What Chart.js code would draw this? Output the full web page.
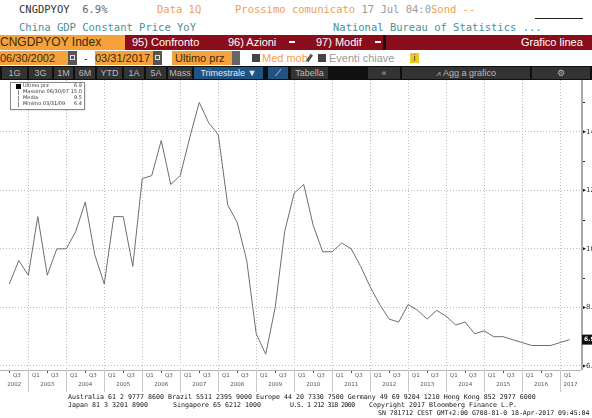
<!DOCTYPE html>
<html>
<head>
<meta charset="utf-8">
<script src="https://cdn.jsdelivr.net/npm/chart.js@4.4.1/dist/chart.umd.min.js"></script>
<style>
  body { margin:0; width:592px; height:418px; overflow:hidden; background:#fff; position:relative; }
  .abs { position:absolute; white-space:pre; }
  .mono { font-family:"DejaVu Sans Mono", "Liberation Mono", monospace; }
  .nar { font-family:"Liberation Sans", Arial, sans-serif; }
  .row { position:absolute; left:0; width:592px; }
  .btn { position:absolute; top:1px; height:12px; background:#333; color:#b8b8b8; font-size:9px; line-height:12px; text-align:center; }
  #wrap { position:absolute; left:0; top:80px; width:592px; height:315px; }
</style>
</head>
<body>
<!-- riga 1 e 2 -->
<div class="abs mono" style="left:19px;top:3px;font-size:10.5px;color:#333">CNGDPYOY  <span style="color:#666">6.9%</span></div>
<div class="abs mono" style="left:157px;top:3px;font-size:10.5px;color:#f0a050">Data 1Q</div>
<div class="abs mono" style="left:235px;top:3px;font-size:10.5px;color:#f0a050">Prossimo comunicato <span style="color:#999">17 Jul 04:0</span>Sond --</div>
<div class="abs" style="left:535px;top:18px;width:48px;height:1px;background:#222"></div>
<div class="abs mono" style="left:19px;top:21px;font-size:10.5px;color:#4a9097">China GDP Constant Price YoY</div>
<div class="abs mono" style="left:333px;top:21px;font-size:10.5px;color:#4a9097">National Bureau of Statistics ...</div>

<!-- barra rossa -->
<div class="row nar" style="top:35px;height:15px;background:#8a0d1c;color:#fff;font-size:11px;line-height:15px">
  <div class="abs" style="left:0;top:0;width:125px;height:15px;background:#f5a23c;color:#3a2a10;font-size:12px">CNGDPYOY Index</div>
  <div class="abs" style="left:132px;top:0">95) Confronto</div>
  <div class="abs" style="left:228px;top:0">96) Azioni</div>
  <div class="abs" style="left:289px;top:6px;width:6px;height:2px;background:#fff"></div>
  <div class="abs" style="left:316px;top:0">97) Modif</div>
  <div class="abs" style="left:375px;top:6px;width:6px;height:2px;background:#fff"></div>
  <div class="abs" style="left:383px;top:0;width:3px;height:15px;background:#111"></div>
  <div class="abs" style="left:521px;top:0">Grafico linea</div>
</div>

<!-- date -->
<div class="row nar" style="top:50px;height:16px;font-size:11px;line-height:16px;color:#3a2a10">
  <div class="abs" style="left:0;top:1px;width:68px;height:14px;line-height:14px;background:#f5a23c">06/30/2002</div>
  <div class="abs" style="left:68px;top:1px;width:9px;height:14px;background:#555"></div>
  <div class="abs" style="left:70px;top:5px;width:5px;height:5px;border:1px solid #ddd;box-sizing:border-box"></div>
  <div class="abs" style="left:84px;top:0">-</div>
  <div class="abs" style="left:95px;top:1px;width:58px;height:14px;line-height:14px;background:#f5a23c">03/31/2017</div>
  <div class="abs" style="left:153px;top:1px;width:9px;height:14px;background:#555"></div>
  <div class="abs" style="left:155px;top:5px;width:5px;height:5px;border:1px solid #ddd;box-sizing:border-box"></div>
  <div class="abs" style="left:172px;top:1px;width:60px;height:14px;line-height:14px;background:#f5a23c"> Ultimo prz</div>
  <div class="abs" style="left:232px;top:1px;width:8px;height:14px;background:#666"></div>
  <div class="abs" style="left:252px;top:4px;width:8px;height:8px;background:#444"></div>
  <div class="abs" style="left:262px;top:0;color:#f0a050">Med mob</div>
  <div class="abs" style="left:308px;top:4px;width:3px;height:8px;background:#555;transform:rotate(35deg)"></div>
  <div class="abs" style="left:318px;top:4px;width:8px;height:8px;background:#444"></div>
  <div class="abs" style="left:329px;top:0;color:#999">Eventi chiave</div>
  <div class="abs" style="left:410px;top:3px;width:9px;height:10px;line-height:10px;background:#e8cc2a;color:#333;font-size:9px;text-align:center">i</div>
</div>

<!-- pulsanti -->
<div class="row nar" style="top:66px;height:14px;background:#101010">
  <div class="btn" style="left:2px;width:25px">1G</div>
  <div class="btn" style="left:29px;width:23px">3G</div>
  <div class="btn" style="left:54px;width:19px">1M</div>
  <div class="btn" style="left:75px;width:20px">6M</div>
  <div class="btn" style="left:97px;width:25px">YTD</div>
  <div class="btn" style="left:124px;width:20px">1A</div>
  <div class="btn" style="left:146px;width:20px">5A</div>
  <div class="btn" style="left:168px;width:24px">Mass</div>
  <div class="btn" style="left:194px;width:69px;background:#1f5384;color:#e8e8e8">Trimestrale ▼</div>
  <div class="btn" style="left:268px;width:20px;background:#1f5384;color:#e8e8e8">⟋</div>
  <div class="btn" style="left:291px;width:37px">Tabella</div>
  <div class="btn" style="left:368px;width:32px">«</div>
  <div class="btn" style="left:402px;width:128px"><span style="font-size:8px">⩘</span>  Agg a grafico</div>
  <div class="btn" style="left:532px;width:58px">⚙</div>
</div>

<div id="wrap"><canvas id="grafico" width="592" height="315"></canvas></div>

<!-- piè di pagina -->
<div class="abs mono" style="left:68px;top:393px;font-size:6.65px;color:#111">Australia 61 2 9777 8600 Brazil 5511 2395 9000 Europe 44 20 7330 7500 Germany 49 69 9204 1210 Hong Kong 852 2977 6000</div>
<div class="abs mono" style="left:68px;top:401px;font-size:6.65px;color:#111">Japan 81 3 3201 8900</div>
<div class="abs mono" style="left:173px;top:401px;font-size:6.65px;color:#111">Singapore 65 6212 1000</div>
<div class="abs mono" style="left:290px;top:401px;font-size:6.65px;color:#111;letter-spacing:-0.6px">U.S. 1 212 318 2000</div>
<div class="abs mono" style="left:369px;top:401px;font-size:6.65px;color:#111">Copyright 2017 Bloomberg Finance L.P.</div>
<div class="abs mono" style="left:378px;top:409px;font-size:6.5px;color:#111">SN 781712 CEST GMT+2:00 G708-81-0 18-Apr-2017 09:45:04</div>

<script>
// PIL trimestrale Cina, a/a %, dal Q2 2002 al Q1 2017
const ANNI = ['2002','2003','2004','2005','2006','2007','2008','2009','2010','2011','2012','2013','2014','2015','2016','2017'];
const TRIM_INIZIO = 2; // primo dato: Q2 2002
const VALORI = [
  8.8, 9.6, 9.1,
  11.1, 9.1, 10.0, 10.0,
  10.6, 11.6, 9.8, 8.8,
  11.1, 11.1, 9.4, 12.4,
  12.5, 13.7, 12.2, 12.5,
  13.8, 15.0, 14.3, 13.9,
  11.5, 10.9, 9.6, 7.1,
  6.4, 8.0, 10.6, 11.9,
  12.2, 10.8, 9.9, 9.9,
  10.2, 10.0, 9.4, 8.7,
  8.1, 7.6, 7.5, 8.1,
  7.9, 7.6, 7.9, 7.7,
  7.4, 7.5, 7.1, 7.2,
  7.0, 7.0, 6.9, 6.8,
  6.7, 6.7, 6.7, 6.8,
  6.9
];
const Y_TICKS = [6, 8, 10, 12, 14];
const Y_LABELS = ['6.0', '8.0', '10', '12', '14'];
const ETICHETTE_TRIM = ['Q1', 'Q3'];

// indice del dato per anno/trimestre
function idx(anno, q) { return (anno - 2002) * 4 + (q - TRIM_INIZIO); }
const fineAnno = ANNI.slice(0, -1).map(a => idx(+a, 4));

const massimo = Math.max(...VALORI);
const minimo = Math.min(...VALORI);
const media = VALORI.reduce((a, b) => a + b, 0) / VALORI.length;
const iMax = VALORI.indexOf(massimo), iMin = VALORI.indexOf(minimo);
function dataTrim(i) {
  const q = (i + TRIM_INIZIO - 1) % 4 + 1;
  const a = 2002 + Math.floor((i + TRIM_INIZIO - 1) / 4);
  const fine = ['03/31', '06/30', '09/30', '12/31'][q - 1];
  return fine + '/' + String(a).slice(2);
}
const ultimo = VALORI[VALORI.length - 1];

const assiBloomberg = {
  id: 'assiBloomberg',
  afterDraw(chart) {
    const ctx = chart.ctx;
    const ca = chart.chartArea;
    const sx = chart.scales.x, sy = chart.scales.y;
    ctx.save();

    // asse destro
    ctx.fillStyle = '#a9a9a9';
    ctx.fillRect(ca.right, 0, 2, ca.bottom);
    ctx.fillStyle = '#222';
    for (let v = 7; v <= 15; v += 2) {
      ctx.fillRect(ca.right + 2, Math.round(sy.getPixelForValue(v)), 2, 1);
    }
    ctx.font = '7px "DejaVu Sans", sans-serif';
    ctx.textBaseline = 'middle';
    Y_TICKS.forEach((v, k) => {
      const y = sy.getPixelForValue(v);
      ctx.fillStyle = '#111';
      ctx.beginPath();
      ctx.moveTo(ca.right + 2, y - 1.5); ctx.lineTo(ca.right + 5, y); ctx.lineTo(ca.right + 2, y + 1.5);
      ctx.fill();
      ctx.fillStyle = '#333';
      ctx.fillText(Y_LABELS[k], ca.right + 5, y);
    });
    // etichetta ultimo valore
    const yu = sy.getPixelForValue(ultimo);
    ctx.fillStyle = '#111';
    ctx.fillRect(ca.right + 1, yu - 5, 12, 10);
    ctx.fillStyle = '#fff';
    ctx.font = 'bold 6px "DejaVu Sans", sans-serif';
    ctx.fillText(ultimo.toFixed(1), ca.right + 3, yu);

    // banda asse x
    const top = ca.bottom;
    ctx.fillStyle = '#b5b5b5';
    ctx.fillRect(0, top, ca.right, 1);
    ctx.font = '5.5px "DejaVu Sans", sans-serif';
    ctx.textAlign = 'center';
    ANNI.forEach(a => {
      const anno = +a;
      const x0 = Math.max(sx.getPixelForValue(idx(anno, 1) - 1), 0);
      const x1 = Math.min(sx.getPixelForValue(idx(anno, 4)), ca.right);
      ctx.fillStyle = '#c8c8c8';
      if (x0 > 1) ctx.fillRect(Math.round(x0), top, 1, 22);
      ctx.fillStyle = '#555';
      [1, 3].forEach((q, k) => {
        const i = idx(anno, q);
        if (i < 0 || i >= VALORI.length) return;
        const x = sx.getPixelForValue(i - 0.2);
        ctx.fillText(ETICHETTE_TRIM[k], x, top + 6);
      });
      const i2 = idx(anno, 2);
      if (i2 >= 0 && i2 < VALORI.length) ctx.fillRect(Math.round(sx.getPixelForValue(i2)), top + 1, 1, 2);
      ctx.fillText(a, (x0 + x1) / 2, top + 15);
    });

    // riquadro legenda
    const lx = 10, ly = 2, lw = 74, lh = 27;
    ctx.shadowColor = 'rgba(0,0,0,0.25)';
    ctx.shadowBlur = 2; ctx.shadowOffsetX = 1; ctx.shadowOffsetY = 1;
    ctx.fillStyle = '#fff';
    ctx.fillRect(lx, ly, lw, lh);
    ctx.shadowColor = 'transparent';
    ctx.strokeStyle = '#8a8a8a';
    ctx.lineWidth = 1;
    ctx.strokeRect(lx + 0.5, ly + 0.5, lw, lh);
    const righe = [
      ['Ultimo prz', ultimo.toFixed(1)],
      ['Massimo ' + dataTrim(iMax), massimo.toFixed(1)],
      ['Media', media.toFixed(1)],
      ['Minimo ' + dataTrim(iMin), minimo.toFixed(1)]
    ];
    ctx.font = '5px "DejaVu Sans", sans-serif';
    righe.forEach((r, k) => {
      const y = ly + 4 + k * 6;
      ctx.fillStyle = k === 0 ? '#000' : '#888';
      if (k === 0) ctx.fillRect(lx + 6, y - 2, 5, 5);
      else ctx.fillRect(lx + 8, y - 2, 1, 5);
      ctx.fillStyle = '#333';
      ctx.textAlign = 'left';
      ctx.fillText(r[0], lx + 13, y);
      ctx.textAlign = 'right';
      ctx.fillText(r[1], lx + lw - 2, y);
    });
    ctx.restore();
  }
};

new Chart(document.getElementById('grafico'), {
  type: 'line',
  data: {
    datasets: [{
      label: 'CNGDPYOY',
      data: VALORI.map((v, i) => ({ x: i, y: v })),
      borderColor: '#6e6e6e',
      borderWidth: 1,
      pointRadius: 0,
      tension: 0,
      fill: false
    }]
  },
  options: {
    responsive: false,
    animation: false,
    layout: { padding: 0 },
    plugins: { legend: { display: false }, tooltip: { enabled: false } },
    scales: {
      x: {
        type: 'linear',
        min: -0.98,
        max: 60.2,
        afterBuildTicks: s => { s.ticks = fineAnno.map(v => ({ value: v })); },
        afterFit: s => { s.height = 25; },
        ticks: { display: false },
        grid: { color: '#bdbdbd', drawTicks: false, lineWidth: 1 },
        border: { display: false, dash: [1, 2] }
      },
      y: {
        position: 'right',
        min: 5.863,
        max: 15.765,
        afterBuildTicks: s => { s.ticks = Y_TICKS.map(v => ({ value: v })); },
        afterFit: s => { s.width = 11; },
        ticks: { display: false },
        grid: { color: '#bdbdbd', drawTicks: false, lineWidth: 1 },
        border: { display: false, dash: [1, 2] }
      }
    }
  },
  plugins: [assiBloomberg]
});
</script>
</body>
</html>
